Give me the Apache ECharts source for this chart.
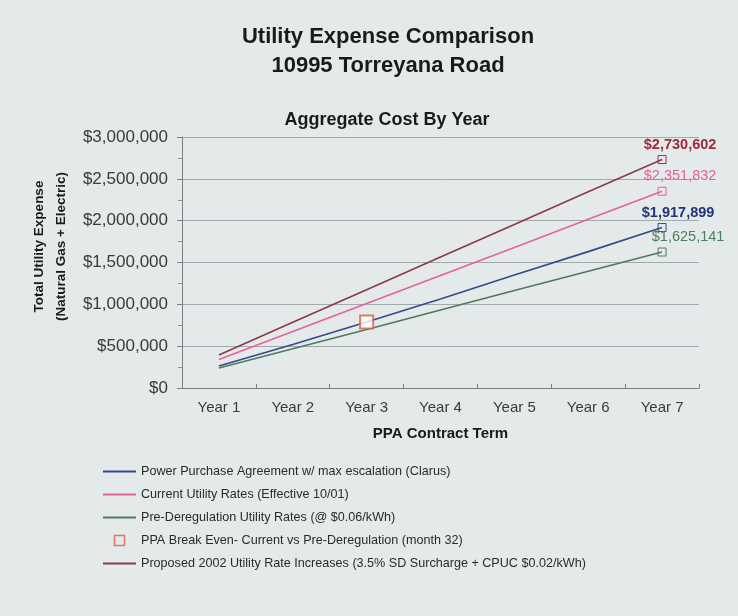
<!DOCTYPE html>
<html>
<head>
<meta charset="utf-8">
<title>Utility Expense Comparison</title>
<script src="https://cdn.jsdelivr.net/npm/echarts@6/dist/echarts.min.js"></script>
<style>
  html, body { margin: 0; padding: 0; background: #e4eaea; }
  #chart { width: 738px; height: 616px; }
</style>
</head>
<body>
<div id="chart"></div>
<script>
// values (cumulative cost per contract year)
const years = ['Year 1', 'Year 2', 'Year 3', 'Year 4', 'Year 5', 'Year 6', 'Year 7'];
const ppaCost = [262000, 520000, 789000, 1065000, 1350000, 1630000, 1917899];
const currentRates = [340000, 675000, 1010000, 1345000, 1680000, 2016000, 2351832];
const preDereg = [240000, 470000, 700000, 933000, 1165000, 1395000, 1625141];
const proposed2002 = [395000, 785000, 1175000, 1565000, 1955000, 2345000, 2730602];
const breakEven = [['Year 3', 790000]];

const names = {
  ppa: 'Power Purchase Agreement w/ max escalation (Clarus)',
  current: 'Current Utility Rates (Effective 10/01)',
  pre: 'Pre-Deregulation Utility Rates (@ $0.06/kWh)',
  breakEven: 'PPA Break Even- Current vs Pre-Deregulation (month 32)',
  proposed: 'Proposed 2002 Utility Rate Increases (3.5% SD Surcharge + CPUC $0.02/kWh)'
};

const FONT = '"Liberation Sans", Arial, Helvetica, sans-serif';
const BREAK_COLOR = '#e25a42';
const money = (v) => '$' + Math.round(v).toLocaleString('en-US');

// legend icons: a thin bar for the lines, a hollow square for the break even point
const LINE_ICON = 'path://M0,0 L33,0 L33,2 L0,2 Z';
const BOX_ICON = 'path://M0,0 L9,0 L9,9 L0,9 Z';

function lineSeries(name, data, color, labelColor, bold, offsetX) {
  const last = data.length - 1;
  return {
    name: name,
    type: 'line',
    data: data,
    symbol: 'none',
    lineStyle: { color: color, width: 1.6 },
    itemStyle: { color: color },
    markPoint: {
      symbol: 'rect',
      symbolSize: 8,
      itemStyle: { color: 'rgba(0,0,0,0)', borderColor: color, borderWidth: 1 },
      label: {
        show: true,
        position: 'top',
        distance: 3,
        offset: [offsetX, 0],
        color: labelColor,
        fontFamily: FONT,
        fontSize: 14.5,
        fontWeight: bold ? 'bold' : 'normal',
        formatter: (p) => money(p.value)
      },
      data: [{ coord: [years[last], data[last]], value: data[last] }]
    }
  };
}

const chart = echarts.init(document.getElementById('chart'));
chart.setOption({
  animation: false,
  backgroundColor: '#e4eaea',
  textStyle: { fontFamily: FONT },
  title: [
    {
      text: 'Utility Expense Comparison\n10995 Torreyana Road',
      left: 383,
      top: 17,
      textAlign: 'center',
      textStyle: { fontFamily: FONT, fontSize: 22, fontWeight: 'bold', lineHeight: 29, color: '#1a1a1a' }
    },
    {
      text: 'Aggregate Cost By Year',
      left: 382,
      top: 106,
      textAlign: 'center',
      textStyle: { fontFamily: FONT, fontSize: 18, fontWeight: 'bold', color: '#1a1a1a' }
    }
  ],
  legend: {
    orient: 'vertical',
    left: 98,
    top: 460,
    itemWidth: 33,
    itemHeight: 10,
    itemGap: 10,
    textStyle: { fontFamily: FONT, fontSize: 12.6, color: '#2a2a2a' },
    data: [
      { name: names.ppa, icon: LINE_ICON },
      { name: names.current, icon: LINE_ICON },
      { name: names.pre, icon: LINE_ICON },
      {
        name: names.breakEven,
        icon: BOX_ICON,
        itemStyle: { color: 'rgba(0,0,0,0)', borderColor: BREAK_COLOR, borderWidth: 1.5 }
      },
      { name: names.proposed, icon: LINE_ICON }
    ]
  },
  grid: { left: 182, right: 39, top: 137, bottom: 228 },
  xAxis: {
    type: 'category',
    data: years,
    boundaryGap: true,
    name: 'PPA Contract Term',
    nameLocation: 'middle',
    nameGap: 38,
    nameTextStyle: { fontFamily: FONT, fontSize: 15, fontWeight: 'bold', color: '#1a1a1a' },
    axisLine: { lineStyle: { color: '#7a7f80', width: 1 } },
    axisTick: { show: true, inside: true, length: 4, lineStyle: { color: '#7a7f80' } },
    axisLabel: { fontFamily: FONT, fontSize: 15, color: '#3a3a3a', margin: 12 }
  },
  yAxis: {
    type: 'value',
    min: 0,
    max: 3000000,
    interval: 500000,
    name: 'Total Utility Expense\n(Natural Gas + Electric)',
    nameLocation: 'middle',
    nameGap: 110,
    nameMoveOverlap: false,
    nameTextStyle: {
      fontFamily: FONT, fontSize: 13.5, fontWeight: 'bold', lineHeight: 22,
      color: '#1a1a1a', padding: [0, 0, 0, 32]
    },
    axisLine: { show: true, lineStyle: { color: '#7a7f80', width: 1 } },
    axisTick: { show: true, length: 5, lineStyle: { color: '#7a7f80' } },
    minorTick: { show: true, splitNumber: 2, length: 4, lineStyle: { color: '#8a8f90' } },
    axisLabel: { fontFamily: FONT, fontSize: 17, color: '#3a3a3a', margin: 14, formatter: money },
    splitLine: { show: true, lineStyle: { color: '#a3aaab', width: 1 } }
  },
  series: [
    lineSeries(names.ppa, ppaCost, '#34498c', '#22337a', true, 16),
    lineSeries(names.current, currentRates, '#e4629c', '#e0609c', false, 18),
    lineSeries(names.pre, preDereg, '#4d7a5c', '#4a8060', false, 26),
    {
      name: names.breakEven,
      type: 'scatter',
      data: breakEven,
      symbol: 'emptyRect',
      symbolSize: 13,
      itemStyle: { color: BREAK_COLOR, borderColor: BREAK_COLOR, borderWidth: 1.5 },
      z: 5
    },
    lineSeries(names.proposed, proposed2002, '#8a3a4a', '#a02a3c', true, 18)
  ]
});
</script>
</body>
</html>
